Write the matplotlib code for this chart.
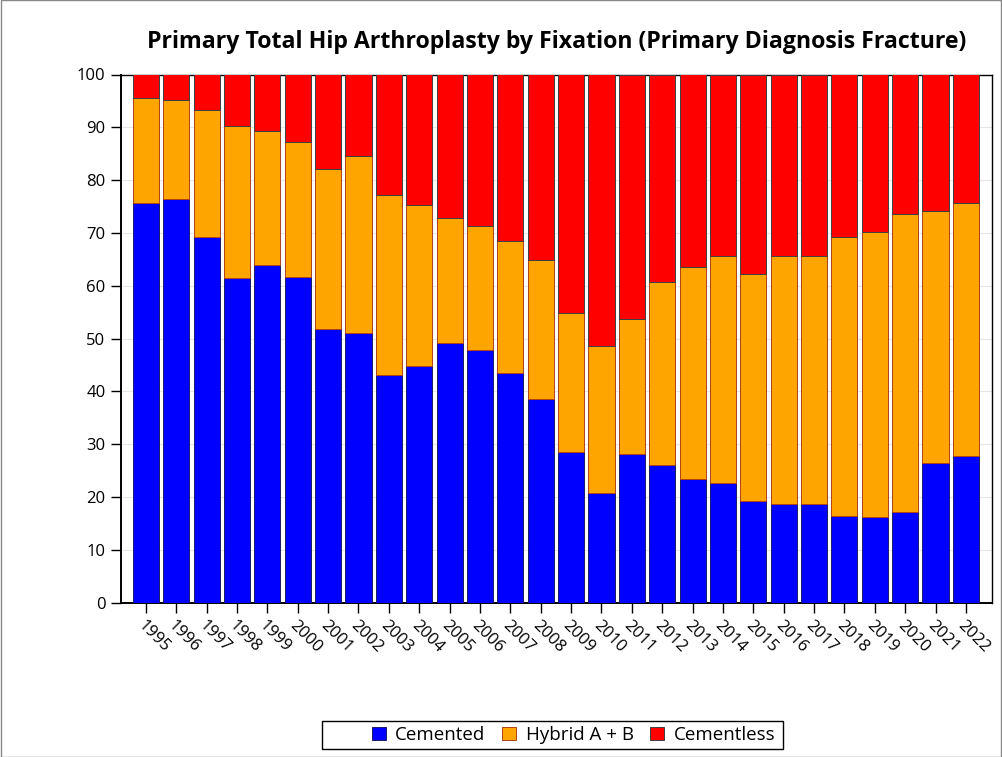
import numpy as np, matplotlib
matplotlib.use("Agg"); import matplotlib.pyplot as plt
from matplotlib.patches import Rectangle

plt.rcParams['font.family'] = ['Open Sans', 'DejaVu Sans']

years = [str(y) for y in range(1995, 2023)]
# cemented share and cumulative (cemented + hybrid) share
cemented = [75.6, 76.4, 69.2, 61.5, 64.0, 61.7, 51.8, 51.0, 43.2, 44.9, 49.1, 47.9, 43.4, 38.5,
            28.5, 20.7, 28.2, 26.0, 23.5, 22.7, 19.2, 18.6, 18.7, 16.4, 16.3, 17.1, 26.5, 27.8]
top_hybrid = [95.6, 95.1, 93.2, 90.3, 89.3, 87.2, 82.2, 84.5, 77.1, 75.2, 72.8, 71.3, 68.4, 64.8,
              54.8, 48.6, 53.7, 60.7, 63.6, 65.7, 62.2, 65.7, 65.7, 69.2, 70.1, 73.5, 74.1, 75.7]
hybrid = [t - c for t, c in zip(top_hybrid, cemented)]
cementless = [100 - t for t in top_hybrid]

W, H = 1002, 757
fig = plt.figure(figsize=(W/100, H/100), dpi=100)
ax = fig.add_axes([120.7/W, 1-602.7/H, (991.7-120.7)/W, (602.7-74.5)/H])

x = np.arange(len(years)); bw = 0.86
ax.bar(x, cemented, bw, color='#0000FF', edgecolor='#1a1a6a', lw=0.7, label='Cemented', zorder=3)
ax.bar(x, hybrid, bw, bottom=cemented, color='#FFA500', edgecolor='#b0401a', lw=0.7,
       label='Hybrid A + B', zorder=3)
ax.bar(x, cementless, bw, bottom=top_hybrid, color='#FF0000', edgecolor='#404040', lw=0.7,
       label='Cementless', zorder=3)

ax.set_xlim(-0.83, 27.85); ax.set_ylim(0, 100)
ax.set_yticks(range(0, 101, 10))
ax.yaxis.grid(True, color='#e6e6e6', lw=0.8, zorder=0)
ax.set_xticks(x)
ax.set_xticklabels(years, rotation=-45, ha='left', va='top', rotation_mode='anchor', fontsize=12)
ax.tick_params(axis='y', labelsize=12, length=7, width=1, pad=4)
ax.tick_params(axis='x', length=7, width=1, pad=4)
for s in ax.spines.values(): s.set_linewidth(1.0)
ax.spines['left'].set_linewidth(1.4); ax.spines['bottom'].set_linewidth(1.4)

fig.text(556.5/W, 1-42/H, 'Primary Total Hip Arthroplasty by Fixation (Primary Diagnosis Fracture)',
         ha='center', va='center', fontsize=16.7, fontweight='bold')

h, l = ax.get_legend_handles_labels()
fig.legend(h, l, loc='center', bbox_to_anchor=(573.5/W, 1-735/H), ncol=3, frameon=False,
           fontsize=13.5, handlelength=0.75, handleheight=0.75, handletextpad=0.5, columnspacing=0.9)
fig.patches.append(Rectangle((322/W, 1-749/H), 461/W, 28/H, transform=fig.transFigure,
                             fill=False, ec='black', lw=1))
fig.patches.append(Rectangle((0.5/W, 0), (W-2)/W, 1, transform=fig.transFigure,
                             fill=False, ec='#888888', lw=1))

fig.savefig('out.png', dpi=100)
